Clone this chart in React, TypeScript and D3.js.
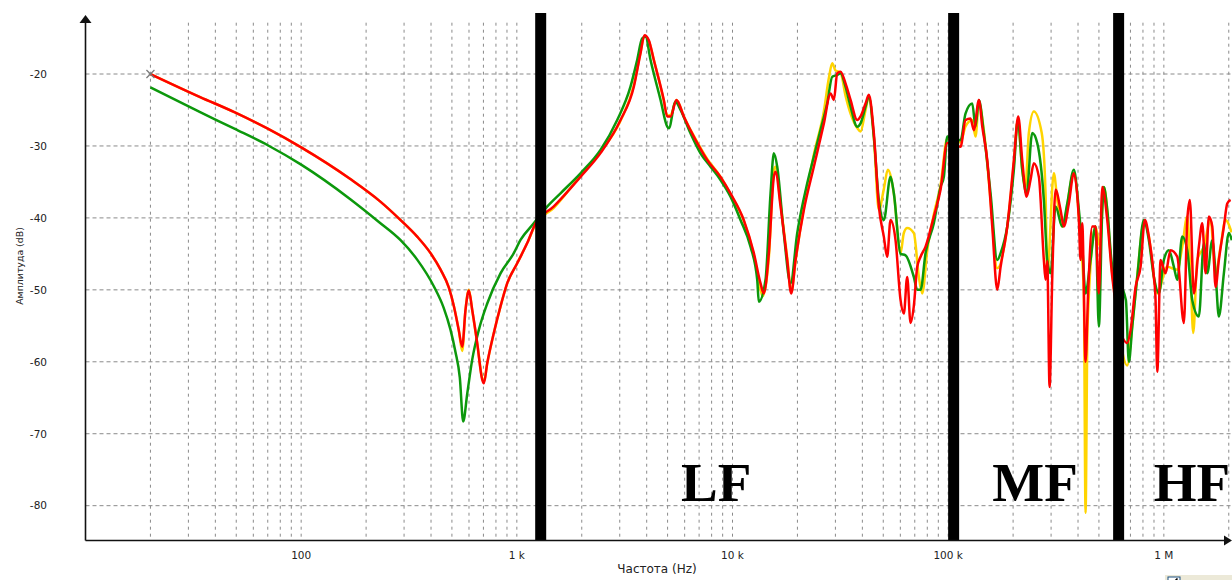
import React from 'react';
import * as d3 from 'd3';

const W = 1232;
const H = 580;

// Measured transfer traces: [frequency in Hz, amplitude in dB]
const yellowTrace: [number, number][] = [
  [20, -20.0], [34, -23.2], [49, -25.3], [70, -27.6], [100, -30.2], [169, -34.6], [230, -37.6], [289, -40.3],
  [345, -42.6], [398, -44.9], [443, -47.2], [484, -49.7], [510, -52.2], [538, -55.6], [558, -58.5], [578, -52.8],
  [599, -50.0], [621, -52.8], [655, -57.4], [691, -62.3], [703, -62.8], [729, -60.2], [782, -56.0], [840, -52.3],
  [902, -49.1], [1004, -46.3], [1117, -43.5], [1221, -40.9], [1484, -38.6], [1973, -34.1], [2443, -30.8],
  [3025, -26.5], [3485, -21.6], [3745, -17.0], [3900, -14.7], [4092, -15.4], [4316, -18.0], [4802, -23.7],
  [4981, -25.8], [5160, -25.7], [5500, -23.6], [5945, -25.9], [6615, -28.6], [7633, -31.8], [8798, -34.3],
  [9789, -36.7], [11280, -40.4], [12560, -45.2], [13490, -50.0], [13800, -50.9], [14740, -45.5], [15550, -33.5],
  [15830, -32.9], [16700, -38.0], [17930, -45.5], [18720, -50.3], [19600, -46.0], [21420, -38.5], [23830, -31.2],
  [26510, -25.2], [28000, -20.5], [29000, -18.5], [30000, -19.5], [31680, -19.8], [33420, -23.0], [35260, -25.5],
  [37870, -27.5], [39240, -28.0], [41390, -25.0], [42860, -23.2], [45210, -28.8], [47700, -38.9], [50300, -36.0],
  [52500, -33.3], [55980, -36.6], [60120, -44.9], [62280, -42.1], [64570, -41.4], [69270, -42.1], [73140, -48.2],
  [75850, -50.5], [80000, -44.5], [85800, -39.5], [92150, -35.5], [98990, -29.0], [114100, -29.5], [120300, -27.3],
  [129300, -26.4], [133900, -28.7], [138800, -24.0], [146300, -27.8], [157200, -37.5], [168900, -47.0],
  [187900, -41.2], [201600, -32.4], [210400, -26.4], [220500, -33.3], [228000, -35.7], [236600, -28.2],
  [249500, -25.2], [271500, -28.2], [282800, -36.6], [288000, -47.7], [309000, -33.8], [320400, -37.5],
  [338000, -41.2], [382500, -33.8], [410900, -43.1], [425600, -50.5], [433500, -81.0], [442600, -55.0],
  [482300, -41.2], [505000, -44.0], [527000, -35.7], [576500, -47.7], [676600, -60.5], [713700, -55.0],
  [752900, -48.0], [807700, -40.75], [852100, -42.6], [898900, -48.2], [932000, -50.5], [1036000, -46.8],
  [1154000, -47.2], [1217000, -44.0], [1284000, -39.8], [1330000, -48.2], [1369000, -56.0], [1428000, -45.85],
  [1533000, -44.0], [1646000, -40.3], [1737000, -47.7], [1832000, -44.0], [1932000, -40.3], [2060000, -42.0],
];

const greenTrace: [number, number][] = [
  [20, -21.85], [34, -25.3], [49, -27.6], [70, -29.9], [100, -32.6], [169, -37.4], [230, -40.6], [289, -43.1],
  [345, -45.8], [412, -49.5], [458, -52.5], [492, -55.5], [519, -58.6], [544, -62.2], [564, -68.3], [589, -64.4],
  [621, -59.7], [666, -55.6], [729, -51.9], [840, -47.7], [968, -44.9], [1040, -43.07], [1198, -40.75],
  [1382, -38.44], [1594, -36.58], [1973, -33.8], [2443, -30.56], [2920, -26.39], [3365, -21.76], [3614, -18.05],
  [3813, -15.04], [3951, -14.82], [4168, -18.05], [4638, -23.61], [4981, -27.32], [5067, -27.55], [5441, -23.85],
  [5740, -25.0], [6387, -28.24], [7106, -31.02], [7907, -32.88], [8798, -34.73], [9789, -37.05], [10890, -40.29],
  [12120, -44.0], [13020, -48.63], [13240, -51.65], [14220, -48.63], [15010, -36.58], [15550, -31.02],
  [16120, -32.88], [17290, -42.14], [18580, -49.09], [19950, -42.14], [22200, -35.19], [23830, -31.49],
  [25590, -27.78], [27490, -24.07], [29000, -20.37], [30590, -20.14], [31680, -19.9], [33420, -21.76],
  [35260, -24.54], [37870, -27.32], [39240, -26.86], [41390, -24.54], [42860, -23.15], [45210, -28.71],
  [47700, -37.51], [50300, -40.29], [54030, -34.27], [55980, -36.58], [60120, -45.0], [63420, -45.2],
  [69270, -48.2], [71870, -50.0], [74470, -50.0], [78530, -44.9], [85800, -40.75], [92150, -35.7], [95480, -34.3],
  [98990, -28.7], [114100, -29.2], [120300, -25.5], [129300, -24.1], [133900, -27.3], [138800, -23.6],
  [146300, -28.2], [157200, -36.6], [168900, -45.85], [175000, -44.9], [187900, -41.2], [201600, -33.3],
  [210400, -26.4], [220500, -33.3], [230900, -36.6], [245300, -28.2], [258800, -29.6], [277700, -37.5],
  [288000, -45.85], [298400, -47.7], [314700, -38.4], [338000, -41.2], [356600, -38.0], [382500, -33.3],
  [403600, -38.9], [418400, -44.0], [433500, -50.5], [457200, -45.85], [482300, -41.2], [499600, -55.1],
  [518100, -38.9], [527000, -35.7], [546600, -38.9], [576500, -46.8], [666700, -51.4], [688100, -60.0],
  [713700, -55.1], [752900, -48.2], [807700, -40.3], [852100, -43.1], [898900, -48.2], [948000, -50.5],
  [1000000, -45.85], [1055000, -44.5], [1113000, -46.8], [1154000, -48.6], [1217000, -42.6], [1284000, -44.5],
  [1354000, -51.4], [1453000, -53.7], [1533000, -43.5], [1590000, -47.7], [1677000, -43.1], [1737000, -47.7],
  [1799000, -53.7], [1898000, -47.7], [2002000, -42.1], [2065000, -43.1],
];

const redTrace: [number, number][] = [
  [20, -20.0], [34, -23.2], [49, -25.3], [70, -27.6], [100, -30.2], [169, -34.6], [230, -37.6], [289, -40.3],
  [345, -42.6], [398, -44.9], [443, -47.2], [484, -49.7], [510, -52.2], [538, -55.6], [558, -57.9], [578, -52.8],
  [599, -50.1], [621, -52.8], [655, -57.4], [691, -62.5], [703, -63.0], [729, -60.2], [782, -56.0], [840, -52.3],
  [902, -49.1], [1004, -46.3], [1117, -43.5], [1221, -40.75], [1484, -38.4], [1973, -34.3], [2443, -31.0],
  [3025, -26.4], [3485, -21.8], [3745, -17.1], [3908, -14.6], [4092, -15.3], [4316, -18.05], [4802, -23.6],
  [4981, -25.9], [5160, -25.9], [5500, -23.6], [5945, -25.9], [6615, -28.7], [7633, -31.95], [8798, -34.3],
  [9789, -36.6], [11280, -40.3], [12560, -44.9], [13490, -49.1], [13970, -50.5], [14740, -44.9], [15550, -34.3],
  [15830, -33.6], [16700, -38.4], [17930, -45.85], [18720, -50.5], [19600, -45.85], [21420, -38.9],
  [23830, -32.9], [26510, -26.9], [28480, -22.7], [29500, -23.6], [30590, -19.9], [31680, -19.7], [33420, -21.3],
  [35260, -23.6], [37870, -26.4], [39240, -25.9], [41390, -24.1], [42860, -22.9], [45210, -28.2], [47700, -38.4],
  [50300, -42.6], [52140, -45.4], [54030, -40.3], [57000, -43.1], [60120, -51.4], [62280, -53.3], [64570, -48.2],
  [66890, -54.6], [69270, -52.3], [71870, -46.8], [74470, -45.4], [78530, -44.0], [85800, -39.8], [92150, -36.1],
  [98990, -29.6], [114100, -30.1], [120300, -26.4], [126900, -26.2], [131500, -27.8], [138800, -23.6],
  [143900, -27.3], [151800, -32.0], [160100, -41.2], [168900, -50.0], [175000, -46.8], [187900, -41.2],
  [201600, -32.0], [211300, -25.9], [220500, -32.0], [230900, -37.05], [240900, -34.7], [249500, -32.4],
  [263300, -34.3], [277700, -45.85], [282800, -48.6], [288000, -46.0], [295200, -63.5], [303800, -48.2],
  [314700, -36.1], [331900, -38.9], [343900, -41.2], [362600, -38.0], [382500, -33.8], [403600, -40.3],
  [410900, -45.85], [418400, -40.75], [433500, -60.0], [446000, -50.0], [465600, -41.2], [482300, -41.2],
  [499600, -50.5], [518100, -35.7], [546600, -40.3], [576500, -48.2], [676600, -57.4], [700900, -55.6],
  [739300, -49.6], [779800, -46.8], [816400, -40.3], [852100, -42.6], [898900, -48.2], [915200, -51.4],
  [932000, -61.4], [965400, -45.85], [1018000, -47.7], [1074000, -44.5], [1154000, -45.4], [1238000, -54.6],
  [1284000, -40.3], [1320000, -37.5], [1377000, -50.5], [1453000, -44.0], [1507000, -40.75], [1561000, -47.7],
  [1617000, -39.8], [1677000, -41.2], [1737000, -49.6], [1799000, -45.85], [1898000, -41.2], [1968000, -38.0],
  [2039000, -37.5],
];

const yTickValues = [-20, -30, -40, -50, -60, -70, -80];
const xTickValues = [100, 1000, 10000, 100000, 1000000];
const xTickLabels = ['100', '1 k', '10 k', '100 k', '1 M'];

// Band separators (Hz) and the band names drawn between them
const bandEdges = [1290, 106000, 617000];
const bandNames = ['LF', 'MF', 'HF'];
const bandCenters = [8400, 253000, 1350000];

const startMarker: [number, number] = [20, -20];

const traces = [
  { name: 'yellow', color: '#ffd400', data: yellowTrace },
  { name: 'green', color: '#0c980c', data: greenTrace },
  { name: 'red', color: '#ff0000', data: redTrace },
];

export default function App() {
  const x = d3.scaleLog().domain([10, 2.07e6]).range([85.5, 1232]);
  const y = d3.scaleLinear().domain([-84.84, -11.52]).range([540.5, 13]);

  const plotLeft = 85.5;
  const plotBottom = 540.5;
  const gridTop = 22.7;

  const gridFreqs: number[] = [];
  for (let e = 1; e <= 6; e++) {
    for (let m = 1; m <= 9; m++) {
      const f = m * Math.pow(10, e);
      if (f > 10 && f <= 2.07e6) gridFreqs.push(f);
    }
  }

  const line = d3
    .line<[number, number]>()
    .x((d) => x(d[0]))
    .y((d) => y(d[1]))
    .curve(d3.curveMonotoneX);

  const tickFont = "'DejaVu Sans', sans-serif";
  const mx = x(startMarker[0]);
  const my = y(startMarker[1]);

  return (
    <svg
      width={W}
      height={H}
      viewBox={`0 0 ${W} ${H}`}
      style={{ position: 'absolute', left: 0, top: 0, background: '#fff' }}
    >
      <rect x={0} y={0} width={W} height={H} fill="#fff" />
      <defs>
        <clipPath id="plotClip">
          <rect x={plotLeft} y={0} width={W - plotLeft} height={plotBottom} />
        </clipPath>
      </defs>

      {/* grid */}
      {gridFreqs.map((f) => (
        <line
          key={`vg-${f}`}
          x1={x(f)}
          x2={x(f)}
          y1={gridTop}
          y2={plotBottom}
          stroke="#8a8a8a"
          strokeWidth={1}
          strokeDasharray="3,4"
        />
      ))}
      {yTickValues.map((v) => (
        <line
          key={`hg-${v}`}
          x1={plotLeft}
          x2={W}
          y1={y(v)}
          y2={y(v)}
          stroke="#8a8a8a"
          strokeWidth={1}
          strokeDasharray="4,3"
        />
      ))}

      {/* traces */}
      <g clipPath="url(#plotClip)">
        {traces.map((t) => (
          <path
            key={t.name}
            d={line(t.data) || ''}
            fill="none"
            stroke={t.color}
            strokeWidth={2.5}
            strokeLinejoin="round"
          />
        ))}
      </g>

      {/* start marker */}
      <g stroke="#777" strokeWidth={1.2}>
        <line x1={mx - 4} y1={my - 4} x2={mx + 4} y2={my + 4} />
        <line x1={mx - 4} y1={my + 4} x2={mx + 4} y2={my - 4} />
      </g>

      {/* band separators */}
      {bandEdges.map((f) => (
        <rect key={`be-${f}`} x={x(f) - 5.5} y={13} width={11} height={plotBottom - 13} fill="#000" />
      ))}
      {bandNames.map((n, i) => (
        <text
          key={n}
          x={x(bandCenters[i])}
          y={501}
          textAnchor="middle"
          fontFamily="'Liberation Serif', 'Times New Roman', serif"
          fontWeight="bold"
          fontSize={55}
          fill="#000"
        >
          {n}
        </text>
      ))}

      {/* axes */}
      <line x1={plotLeft} y1={20} x2={plotLeft} y2={plotBottom} stroke="#111" strokeWidth={1.6} />
      <path d={`M${plotLeft},15 L${plotLeft - 6},23 L${plotLeft + 6},23 Z`} fill="#111" />
      <line x1={plotLeft} y1={plotBottom} x2={1226} y2={plotBottom} stroke="#111" strokeWidth={1.6} />
      <path d={`M1232,${plotBottom} L1224,${plotBottom - 5} L1224,${plotBottom + 5} Z`} fill="#111" />

      {yTickValues.map((v) => (
        <text
          key={`yl-${v}`}
          x={47}
          y={y(v)}
          dy="0.36em"
          textAnchor="end"
          fontFamily={tickFont}
          fontSize={10.5}
          fill="#222"
        >
          {String(v)}
        </text>
      ))}
      {xTickValues.map((f, i) => (
        <text
          key={`xl-${f}`}
          x={x(f)}
          y={558.5}
          textAnchor="middle"
          fontFamily={tickFont}
          fontSize={10.5}
          fill="#222"
        >
          {xTickLabels[i]}
        </text>
      ))}

      <text
        x={657}
        y={572.5}
        textAnchor="middle"
        fontFamily={tickFont}
        fontSize={12}
        fill="#222"
      >
        Частота (Hz)
      </text>
      <text
        transform="translate(23,266) rotate(-90)"
        textAnchor="middle"
        fontFamily={tickFont}
        fontSize={9.4}
        fill="#222"
      >
        Амплитуда (dB)
      </text>

      {/* log-scale checkbox */}
      <g>
        <rect x={1165} y={575} width={67} height={20} fill="#ece9d8" />
        <rect x={1168} y={577} width={12} height={12} fill="#fff" stroke="#1c5180" strokeWidth={1} />
        <path d="M1170.5,580.5 L1173,583 L1177.5,578.5" fill="none" stroke="#000" strokeWidth={1.6} />
        <text x={1188} y={588} fontFamily={tickFont} fontSize={11} fill="#000">
          Лог.
        </text>
      </g>
    </svg>
  );
}
